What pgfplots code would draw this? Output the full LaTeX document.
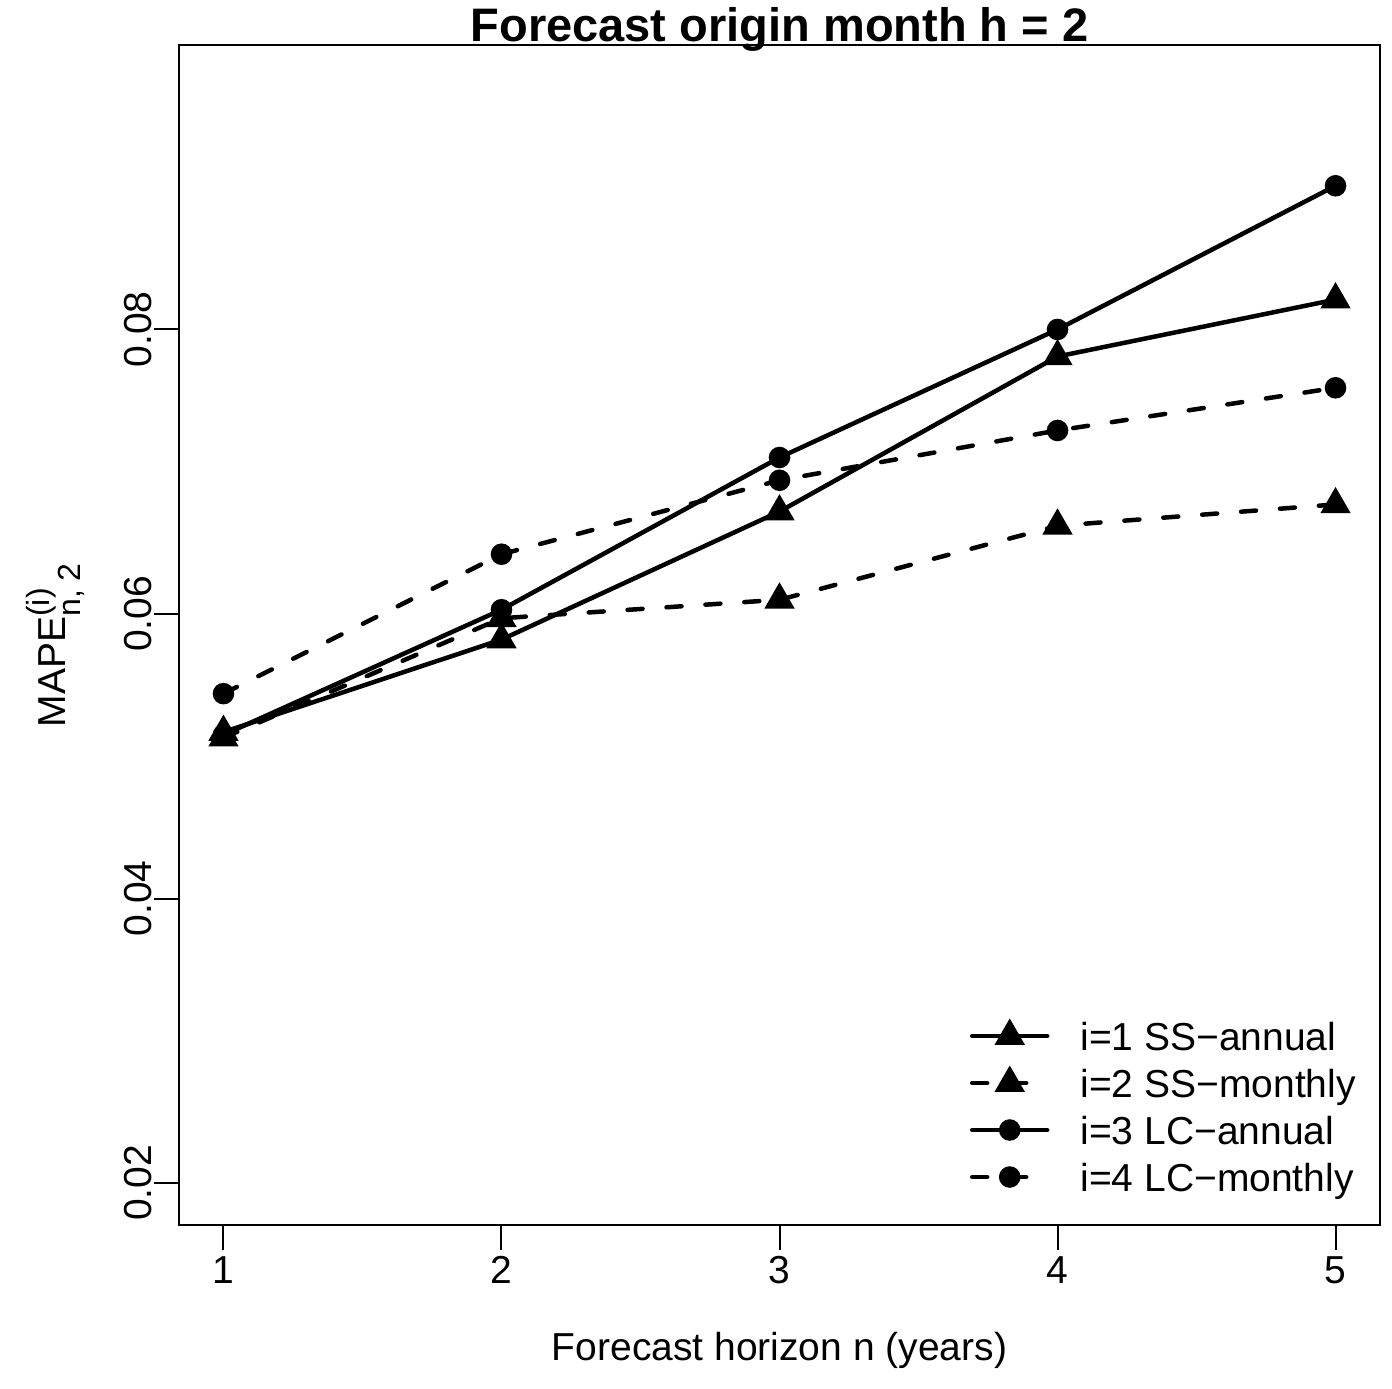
\documentclass[border=0pt]{standalone}
\usepackage{pgfplots}
\pgfplotsset{compat=1.18}
\usepackage{fontspec}
\setmainfont{Liberation Sans}
\begin{document}
\begin{tikzpicture}[font=\fontsize{39bp}{47bp}\selectfont]
\begin{axis}[
  name=ax,
  width=1201bp, height=1180bp, scale only axis,
  xmin=0.84, xmax=5.16, ymin=0.017047, ymax=0.099997,
  xtick={1,2,3,4,5}, xticklabels={1,2,3,4,5},
  ytick={0.02,0.04,0.06,0.08}, yticklabels={0.02,0.04,0.06,0.08},
  scaled y ticks=false, scaled x ticks=false,
  /pgf/number format/assume math mode=true,
  tick pos=left, tick align=outside, major tick length=25bp,
  every tick/.style={black, line width=2bp},
  axis line style={line width=2bp},
  xticklabel style={anchor=base, yshift=-33bp},
  yticklabel style={xshift=-2bp, rotate=90, anchor=base},
  title={Forecast origin month h = 2},
  title style={font=\fontsize{47bp}{56bp}\selectfont\bfseries, at={(axis description cs:0.5,1)}, anchor=base, yshift=-2bp},
  xlabel={Forecast horizon n (years)},
  xlabel style={at={(axis description cs:0.5,0)}, anchor=base, yshift=-135bp},
  ylabel={MAPE$^{\mbox{\fontsize{32bp}{32bp}\selectfont (i)}}_{\mbox{\fontsize{32bp}{32bp}\selectfont n, 2}}$},
  ylabel style={at={(axis description cs:-0.0949,0.5)}, anchor=base, xshift=-10bp},
  legend image code/.code={\draw[#1, mark repeat=2, mark phase=2] plot coordinates {(0bp,0bp) (37.5bp,0bp) (75bp,0bp)};},
  legend cell align=left,
  legend style={draw=none, fill=none, at={(axis description cs:0.6586,0.1801)}, anchor=north west,
    inner sep=0pt, outer sep=0pt, row sep=0pt,
    nodes={inner sep=0pt, text height=37.5bp, text depth=9.5bp},
    /tikz/every odd column/.append style={column sep=31bp}},
]
\addplot[black, line width=4.5bp, line cap=round, mark=triangle*, mark size=13bp, mark options={solid, draw=none, fill=black}]
  coordinates {(1,0.0517)(2,0.0582)(3,0.0672)(4,0.0781)(5,0.0821)};
\addlegendentry{i=1 SS−annual}
\addplot[black, line width=4.5bp, line cap=round, dash pattern=on 15bp off 24bp, mark=triangle*, mark size=13bp, mark options={solid, draw=none, fill=black}]
  coordinates {(1,0.0513)(2,0.0597)(3,0.0610)(4,0.0662)(5,0.0677)};
\addlegendentry{i=2 SS−monthly}
\addplot[black, line width=4.5bp, line cap=round, mark=*, mark size=8.5bp, mark options={solid, draw=none, fill=black}]
  coordinates {(1,0.0515)(2,0.0603)(3,0.0710)(4,0.0800)(5,0.0901)};
\addlegendentry{i=3 LC−annual}
\addplot[black, line width=4.5bp, line cap=round, dash pattern=on 15bp off 24bp, mark=*, mark size=8.5bp, mark options={solid, draw=none, fill=black}]
  coordinates {(1,0.0544)(2,0.0642)(3,0.0694)(4,0.0729)(5,0.0759)};
\addlegendentry{i=4 LC−monthly}
\end{axis}
\pgfresetboundingbox
\path[use as bounding box] ([xshift=-179bp,yshift=-163bp]ax.south west) rectangle ([xshift=12bp,yshift=45bp]ax.north east);
\end{tikzpicture}
\end{document}
